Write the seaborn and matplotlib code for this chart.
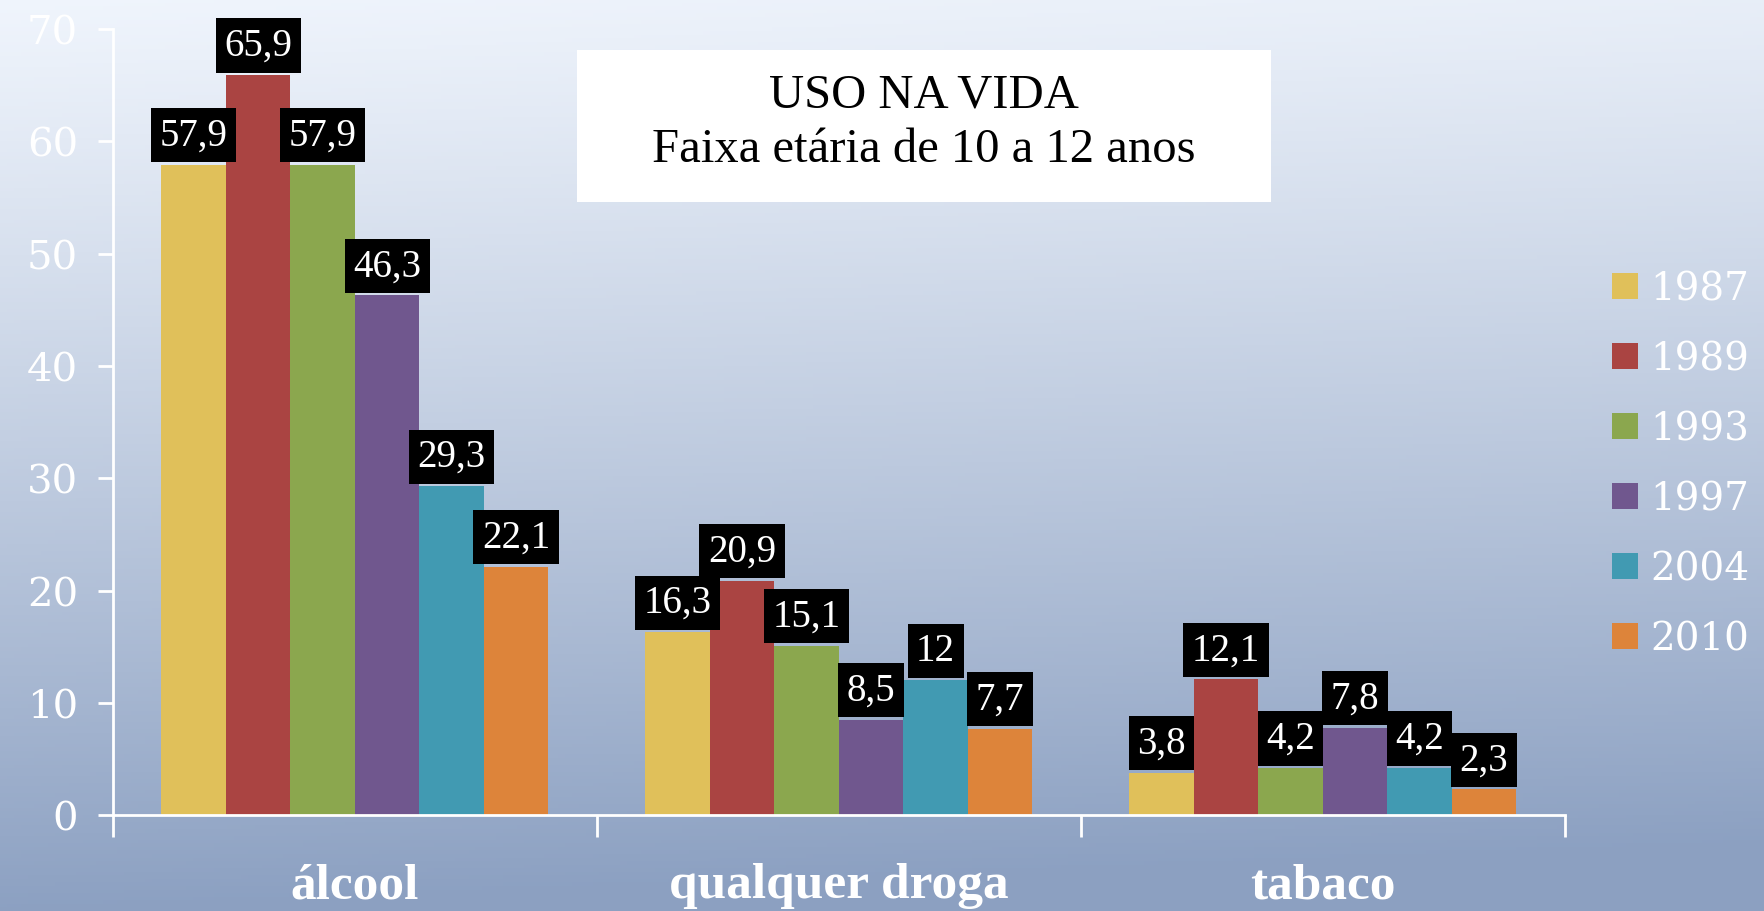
import numpy as np
import pandas as pd
import matplotlib
matplotlib.use("Agg")
import matplotlib.pyplot as plt
import seaborn as sns
from matplotlib.patches import Rectangle
from matplotlib.font_manager import FontProperties

# Dados
substancias = ["álcool", "qualquer droga", "tabaco"]
anos = ["1987", "1989", "1993", "1997", "2004", "2010"]
valores_alcool = [57.9, 65.9, 57.9, 46.3, 29.3, 22.1]
valores_droga = [16.3, 20.9, 15.1, 8.5, 12.0, 7.7]
valores_tabaco = [3.8, 12.1, 4.2, 7.8, 4.2, 2.3]
cores = ["#E0C05A", "#AA4442", "#8BA74E", "#70578E", "#419AB2", "#DD843A"]
titulo = "USO NA VIDA\nFaixa etária de 10 a 12 anos"

df = pd.DataFrame({
    "substancia": np.repeat(substancias, len(anos)),
    "ano": anos * len(substancias),
    "valor": valores_alcool + valores_droga + valores_tabaco,
})


def fmt_br(v):
    s = f"{v:.1f}".replace(".", ",")
    return s[:-2] if s.endswith(",0") else s


sns.set_theme(style="white")
plt.rcParams["font.family"] = ["Liberation Serif", "DejaVu Serif"]

fig = plt.figure(figsize=(17.64, 9.12), dpi=100)

# fundo em degradê
bg = fig.add_axes([0, 0, 1, 1], zorder=-10)
yy = np.linspace(0, 1, 256)[:, None]
xx = np.linspace(0, 1, 256)[None, :]
top = np.array([0.94, 0.96, 0.99])
bot = np.array([0.55, 0.63, 0.76])
t = np.clip(yy ** 1.1 + 0.08 * xx, 0, 1)
grad = top[None, None, :] * (1 - t[..., None]) + bot[None, None, :] * t[..., None]
bg.imshow(grad, aspect="auto", extent=[0, 1, 0, 1], origin="upper")
bg.set_axis_off()

ax = fig.add_axes([0.064, 0.105, 0.823, 0.862])
ax.set_facecolor("none")

sns.barplot(
    data=df, x="substancia", y="valor", hue="ano",
    palette=cores, saturation=1, width=0.8, ax=ax, errorbar=None,
    linewidth=0,
)

for cont in ax.containers:
    labels = [fmt_br(b.get_height()) for b in cont]
    ax.bar_label(
        cont, labels=labels, padding=8, color="white", fontsize=28,
        bbox=dict(boxstyle="square,pad=0.22", facecolor="black", edgecolor="none"),
        zorder=5,
    )

ax.set_ylim(0, 70)
ax.set_xlim(-0.5, 2.5)
ax.set_yticks(range(0, 71, 10))
ax.set_xlabel("")
ax.set_ylabel("")

for lado in ["top", "right"]:
    ax.spines[lado].set_visible(False)
for lado in ["left", "bottom"]:
    ax.spines[lado].set_color("white")
    ax.spines[lado].set_linewidth(2)

ax.tick_params(axis="y", colors="white", length=11, width=2, pad=14,
               labelsize=29, left=True, labelfontfamily="DejaVu Serif")

ax.set_xticks([-0.5, 0.5, 1.5, 2.5], minor=True)
ax.tick_params(axis="x", which="minor", colors="white", length=16, width=2,
               bottom=True, direction="out")
ax.tick_params(axis="x", which="major", length=0, pad=34, labelsize=37,
               labelcolor="white")
for lab in ax.get_xticklabels():
    lab.set_fontweight("bold")

# legenda
handles, labels = ax.get_legend_handles_labels()
ax.legend_.remove()
leg = fig.legend(
    handles, labels, loc="center left", bbox_to_anchor=(0.903, 0.49),
    frameon=False, handlelength=0.67, handleheight=0.65,
    handletextpad=0.3, labelspacing=0.85, borderpad=0,
    prop=FontProperties(family="DejaVu Serif", size=28),
)
for txt in leg.get_texts():
    txt.set_color("white")

# caixa do título
fig.patches.append(Rectangle((577 / 1764, 1 - 203 / 912), 694 / 1764, 152 / 912,
                             transform=fig.transFigure, facecolor="white",
                             edgecolor="none", zorder=3))
fig.text(924 / 1764, 1 - 123 / 912, titulo, ha="center", va="center",
         fontsize=35, color="black", linespacing=1.3, zorder=4)

fig.savefig("out.png", dpi=100)
